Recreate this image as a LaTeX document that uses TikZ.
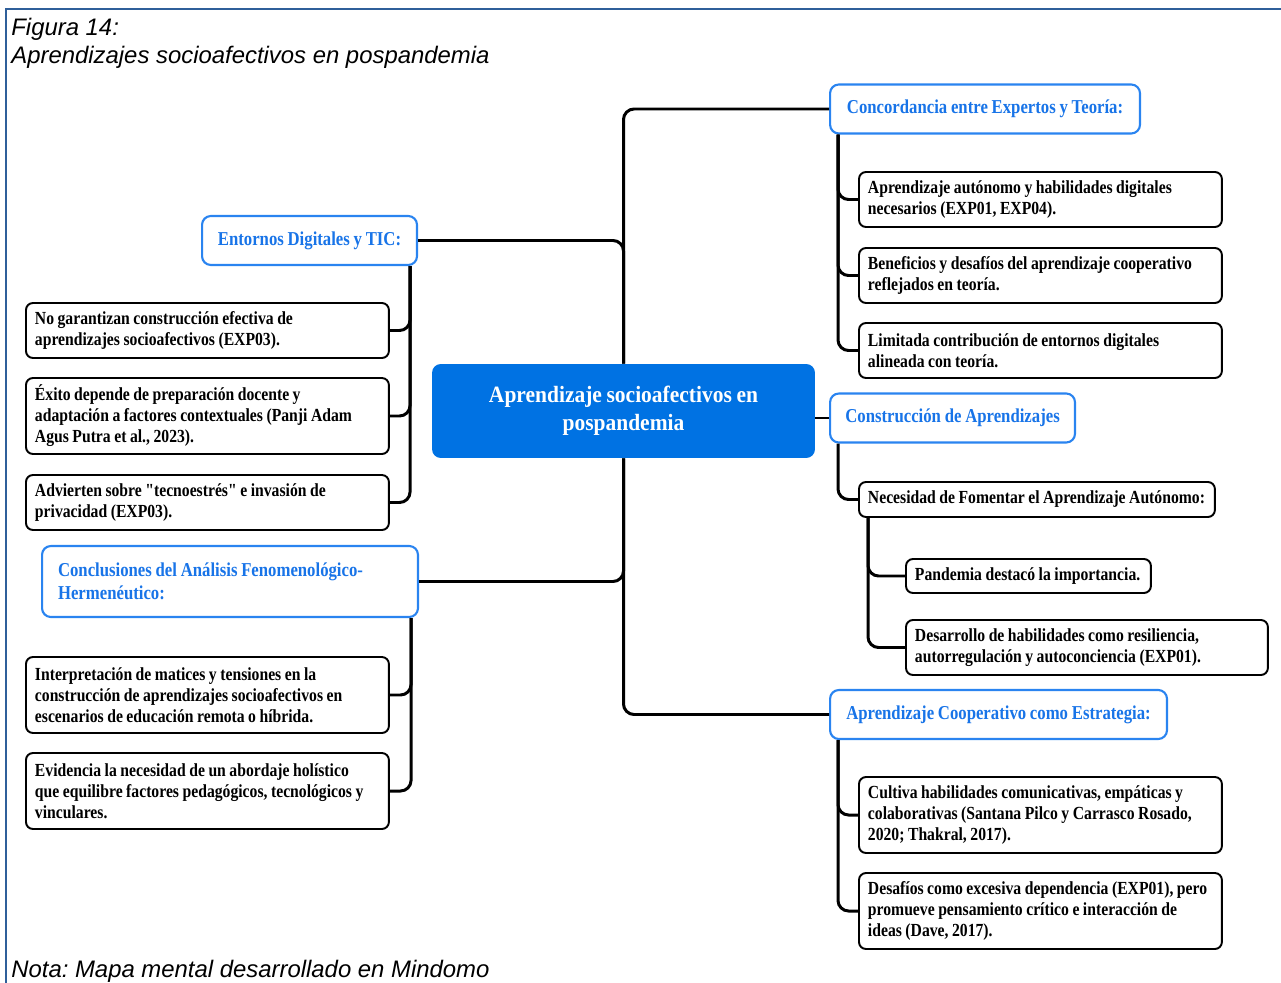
\documentclass[tikz,border=0pt]{standalone}
\usepackage{fontspec}
\setmainfont{Liberation Serif}[FakeStretch=0.85, WordSpace=0.9, Ligatures=TeXOff]
\newfontfamily\capfont{Liberation Sans}
\newfontfamily\centrefont{Liberation Serif}[FakeStretch=0.92, WordSpace=0.85]
\usetikzlibrary{calc, positioning}
\frenchspacing

\definecolor{bluetx}{RGB}{24,116,232}
\definecolor{bluebr}{RGB}{42,132,240}
\definecolor{mainblue}{RGB}{0,114,227}
\definecolor{framecol}{RGB}{47,95,154}

\tikzset{
  conn/.style={line width=1.7pt, rounded corners=6pt},
  leaf/.style={draw=black, line width=1.1pt, rounded corners=4pt, fill=white,
    anchor=west, align=flush left, text width=6.9cm, inner xsep=0.18cm,
    minimum height=1.1cm, font=\bfseries\fontsize{10.5}{11.9}\selectfont},
  branch/.style={draw=bluebr, line width=1.2pt, rounded corners=5pt, fill=white,
    anchor=west, text=bluetx, minimum height=0.98cm,
    font=\bfseries\fontsize{11.2}{12.8}\selectfont},
  captxt/.style={font=\capfont\itshape\fontsize{13.6}{16}\selectfont, anchor=base west, inner sep=0pt}
}

\begin{document}
\begin{tikzpicture}[x=0.02cm, y=-0.02cm]
  \useasboundingbox (0,0) rectangle (1281,983);
  % frame and captions
  \draw[framecol, line width=0.8pt] (6,983) -- (6,9) -- (1281,9);
  \node[captxt] (fig) at (11,36) {Figura 14:};
  \node[captxt] (title) at (11,64) {Aprendizajes socioafectivos en pospandemia};
  \node[captxt] (nota) at (11,977) {Nota: Mapa mental desarrollado en Mindomo};

  % central topic
  \node[fill=mainblue, rounded corners=5pt, minimum width=7.66cm, minimum height=1.88cm,
    text=white, align=center, font=\centrefont\bfseries\fontsize{13.3}{16.2}\selectfont]
    (main) at (623.5,411) {Aprendizaje socioafectivos en\\pospandemia};

  % branches
  \node[branch, minimum width=6.2cm] (conc) at (829,109) {Concordancia entre Expertos y Teoría:};
  \node[branch, minimum width=4.3cm] (ent) at (201,240.5) {Entornos Digitales y TIC:};
  \node[branch, minimum width=4.9cm] (constr) at (829,418) {Construcción de Aprendizajes};
  \node[branch, minimum height=1.42cm, align=flush left, text width=6.88cm, inner xsep=0.32cm]
    (concl) at (41,581.5) {Conclusiones del Análisis Fenomenológico-\\Hermenéutico:};
  \node[branch, minimum width=6.74cm] (coop) at (829,714.5) {Aprendizaje Cooperativo como Estrategia:};

  % leaves, right side
  \node[leaf] (conc1) at (858,199.5) {Aprendizaje autónomo y habilidades digitales\\necesarios (EXP01, EXP04).};
  \node[leaf] (conc2) at (858,275.5) {Beneficios y desafíos del aprendizaje cooperativo\\reflejados en teoría.};
  \node[leaf] (conc3) at (858,350.5) {Limitada contribución de entornos digitales\\alineada con teoría.};
  \node[leaf, text width=6.76cm, minimum height=0.7cm] (nec) at (858,499.5) {Necesidad de Fomentar el Aprendizaje Autónomo:};
  \node[leaf, text width=4.54cm, minimum height=0.68cm] (pan) at (905,576) {Pandemia destacó la importancia.};
  \node[leaf, text width=6.88cm] (des) at (905,647.5) {Desarrollo de habilidades como resiliencia,\\autorregulación y autoconciencia (EXP01).};
  \node[leaf, minimum height=1.52cm] (coop1) at (858,815) {Cultiva habilidades comunicativas, empáticas y\\colaborativas (Santana Pilco y Carrasco Rosado,\\2020; Thakral, 2017).};
  \node[leaf, minimum height=1.52cm] (coop2) at (858,911) {Desafíos como excesiva dependencia (EXP01), pero\\promueve pensamiento crítico e interacción de\\ideas (Dave, 2017).};

  % leaves, left side
  \node[leaf] (ent1) at (25,330.5) {No garantizan construcción efectiva de\\aprendizajes socioafectivos (EXP03).};
  \node[leaf, minimum height=1.52cm] (ent2) at (25,416) {Éxito depende de preparación docente y\\adaptación a factores contextuales (Panji Adam\\Agus Putra et al., 2023).};
  \node[leaf] (ent3) at (25,502.5) {Advierten sobre "tecnoestrés" e invasión de\\privacidad (EXP03).};
  \node[leaf, minimum height=1.52cm] (concl1) at (25,695) {Interpretación de matices y tensiones en la\\construcción de aprendizajes socioafectivos en\\escenarios de educación remota o híbrida.};
  \node[leaf, minimum height=1.52cm] (concl2) at (25,791) {Evidencia la necesidad de un abordaje holístico\\que equilibre factores pedagógicos, tecnológicos y\\vinculares.};

  % connectors from the centre
  \draw[conn] (main.north) |- (conc.west);
  \draw[conn] (main.north) |- (ent.east);
  \draw[conn] (main.south) |- (concl.east);
  \draw[conn] (main.south) |- (coop.west);
  \draw[conn] (main.east |- constr.west) -- (constr.west);

  % connectors to leaves
  \foreach \leafname in {conc1, conc2, conc3}
    \draw[conn] (conc.south west) ++(9,0) |- (\leafname.west);
  \draw[conn] (constr.south west) ++(9,0) |- (nec.west);
  \foreach \leafname in {pan, des}
    \draw[conn] (nec.south west) ++(10,0) |- (\leafname.west);
  \foreach \leafname in {coop1, coop2}
    \draw[conn] (coop.south west) ++(9,0) |- (\leafname.west);
  \foreach \leafname in {ent1, ent2, ent3}
    \draw[conn] (ent.south east) ++(-8,0) |- (\leafname.east);
  \foreach \leafname in {concl1, concl2}
    \draw[conn] (concl.south east) ++(-8,0) |- (\leafname.east);
\end{tikzpicture}
\end{document}
